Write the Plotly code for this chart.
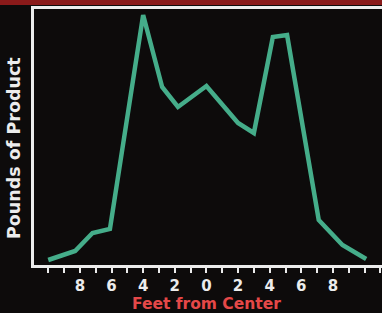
import plotly.graph_objects as go

# Data (feet from center: negative = left side, positive = right side)
feet = [-10, -8.3, -7.2, -6.1, -4.0, -2.8, -1.8, 0, 2.0, 3.0, 4.2, 5.1, 7.1, 8.6, 10.1]
pounds = [5, 14, 32, 36, 250, 178, 158, 179, 142, 132, 228, 230, 45, 20, 6]

tick_vals = [-10, -8, -6, -4, -2, 0, 2, 4, 6, 8, 10]
tick_text = ["", "8", "6", "4", "2", "0", "2", "4", "6", "8", ""]

BG = "#0d0b0b"
WHITE = "#ececec"
GREEN = "#45ad8a"
RED = "#e54848"
FONT = "DejaVu Sans"

fig = go.Figure()
fig.add_trace(go.Scatter(
    x=feet, y=pounds, mode="lines",
    line=dict(color=GREEN, width=4.5),
    hoverinfo="skip", showlegend=False,
))

fig.update_layout(
    width=382, height=313,
    margin=dict(l=34, r=0, t=9, b=48),
    paper_bgcolor=BG, plot_bgcolor=BG,
    xaxis=dict(
        range=[-10.9, 11.1], showgrid=False, zeroline=False,
        showline=True, linecolor=WHITE, linewidth=3, mirror=True,
        tickmode="array", tickvals=tick_vals, ticktext=tick_text,
        ticks="outside", ticklen=5, tickwidth=2, tickcolor=WHITE,
        minor=dict(dtick=1, tick0=0, ticks="outside", ticklen=5,
                   tickwidth=2, tickcolor=WHITE, showgrid=False),
        tickfont=dict(family=FONT, size=15, color=WHITE, weight="bold"),
        fixedrange=True,
    ),
    yaxis=dict(
        range=[0, 256], showgrid=False, zeroline=False,
        showline=True, linecolor=WHITE, linewidth=3,
        showticklabels=False, ticks="", fixedrange=True,
    ),
    annotations=[
        dict(text="Pounds of Product", textangle=-90,
             xref="paper", yref="paper", x=(14 - 34) / 348, y=(265 - 148) / 256,
             xanchor="center", yanchor="middle", showarrow=False,
             font=dict(family=FONT, size=17.5, color=WHITE, weight="bold")),
        dict(text="Feet from Center",
             xref="paper", yref="paper", x=(206 - 34) / 348, y=(265 - 304) / 256,
             xanchor="center", yanchor="middle", showarrow=False,
             font=dict(family=FONT, size=15.5, color=RED, weight="bold")),
    ],
    shapes=[
        dict(type="rect", xref="paper", yref="paper",
             x0=-1, x1=2, y0=(265 - 5) / 256, y1=1.2,
             fillcolor="#8a1a1a", line=dict(width=0), layer="below"),
    ],
)

fig.write_html(
    "out.html",
    config={"displayModeBar": False},
    post_script="document.body.style.margin='0';document.body.style.background='#0d0b0b';",
)
